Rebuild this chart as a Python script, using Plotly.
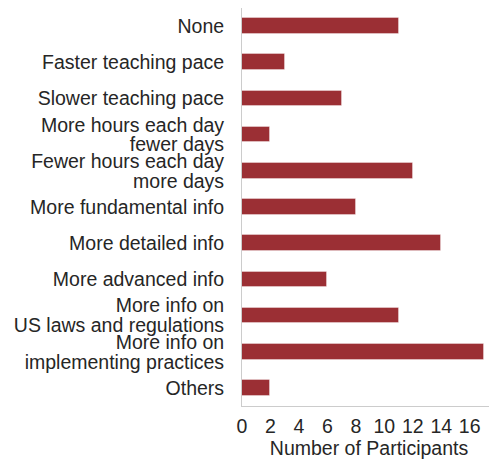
import plotly.graph_objects as go

categories = [
    "None",
    "Faster teaching pace",
    "Slower teaching pace",
    "More hours each day\nfewer days",
    "Fewer hours each day\nmore days",
    "More fundamental info",
    "More detailed info",
    "More advanced info",
    "More info on\nUS laws and regulations",
    "More info on\nimplementing practices",
    "Others",
]
participants = [11, 3, 7, 2, 12, 8, 14, 6, 11, 17, 2]
x_ticks = [0, 2, 4, 6, 8, 10, 12, 14, 16]

positions = list(range(len(categories)))

# tight two-line labels: each line placed as its own tick around the bar centre
line_step = 0.55
tickvals, ticktext = [], []
for pos, cat in zip(positions, categories):
    lines = cat.split("\n")
    n = len(lines)
    for k, line in enumerate(lines):
        tickvals.append(pos + (k - (n - 1) / 2) * line_step)
        ticktext.append(line)

fig = go.Figure(
    go.Bar(
        x=participants,
        y=positions,
        orientation="h",
        width=0.43,
        marker=dict(color="#9b2f34", line=dict(color="rgba(255,255,255,0.35)", width=1)),
        hovertext=[c.replace("\n", " ") for c in categories],
    )
)

font = dict(family="Liberation Sans, Arial, sans-serif", size=19.5, color="#262626")

# page body has an 8px margin, so the figure is sized to fit inside it
fig.update_layout(
    width=489,
    height=456,
    margin=dict(l=234, r=1, t=0, b=58),
    plot_bgcolor="white",
    paper_bgcolor="white",
    font=font,
    showlegend=False,
    bargap=0,
)
fig.update_xaxes(
    range=[0, 17.85],
    tickvals=x_ticks,
    showgrid=False,
    zeroline=False,
    showline=True,
    linecolor="#cccccc",
    linewidth=1,
    ticks="",
    ticklabelstandoff=3,
    title=dict(text="Number of Participants", standoff=0, font=font),
    tickfont=font,
    automargin=False,
)
fig.update_yaxes(
    range=[10.5, -0.5],
    autorange=False,
    tickmode="array",
    tickvals=tickvals,
    ticktext=ticktext,
    showgrid=False,
    zeroline=False,
    showline=True,
    linecolor="#cccccc",
    linewidth=1,
    ticks="",
    ticklabelstandoff=13,
    tickfont=font,
    automargin=False,
)

fig.write_html("out.html")
